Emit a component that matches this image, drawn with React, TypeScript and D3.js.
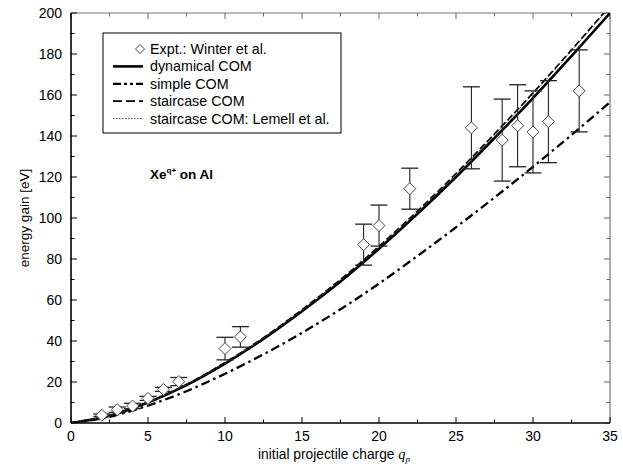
import React from "react";
import * as d3 from "d3";

const qGrid = [0, 2.5, 5, 7.5, 10, 12.5, 15, 17.5, 20, 22.5, 25, 27.5, 30, 32.5, 35];
const dynamicalCOM = [0, 3.5, 10, 18.5, 29, 41, 54.5, 69, 85, 102, 120, 139, 158.5, 179, 200];
const simpleCOM = [0, 3, 8.5, 15.5, 24, 33.5, 44, 55.5, 68, 81.5, 95.5, 110, 125, 140.5, 156.5];
const staircaseCOM = [0, 3.6, 10.2, 18.8, 29.5, 41.6, 55.3, 70, 86.2, 103.4, 121.7, 141, 161, 182, 203.5];
const staircaseLemell = [0, 3.6, 10.1, 18.7, 29.3, 41.4, 55, 69.7, 85.8, 103, 121.2, 140.5, 160.5, 181.5, 203];

const exptQ = [2, 3, 4, 5, 6, 7, 10, 11, 19, 20, 22, 26, 28, 29, 30, 31, 33];
const exptE = [3.8, 6.5, 8.3, 12, 16.4, 20.2, 36.3, 42, 87, 96.3, 114.3, 144, 138, 145, 142, 147, 162];
const exptErr = [0.6, 1.3, 1.3, 1, 1, 2, 5.5, 5, 10, 10, 10, 20, 20, 20, 20, 20, 20];

const xTicks = [0, 5, 10, 15, 20, 25, 30, 35];
const yTicks = [0, 20, 40, 60, 80, 100, 120, 140, 160, 180, 200];

const legendItems = [
  { label: "Expt.: Winter et al.", kind: "expt" },
  { label: "dynamical COM", kind: "solid" },
  { label: "simple COM", kind: "dashdot" },
  { label: "staircase COM", kind: "dashed" },
  { label: "staircase COM: Lemell et al.", kind: "dotted" },
];

const W = 623;
const H = 466;
const L = 71, R = 610, T = 13, B = 423;

const styles: Record<string, { w: number; dash?: string; color: string }> = {
  solid: { w: 2.6, color: "#000" },
  dashdot: { w: 2.3, dash: "9,4,2.5,4", color: "#000" },
  dashed: { w: 1.7, dash: "7,3", color: "#000" },
  dotted: { w: 1, dash: "1.5,1.5", color: "#444" },
};

export default function App() {
  const x = d3.scaleLinear().domain([0, 35]).range([L, R]);
  const y = d3.scaleLinear().domain([0, 200]).range([B, T]);

  const mk = (vals: number[]) =>
    d3
      .line<number>()
      .x((_, i) => x(qGrid[i]))
      .y((d) => y(d))
      .curve(d3.curveCatmullRom)(vals) || "";

  const font = "'Liberation Sans', Arial, Helvetica, sans-serif";
  const xMinor = d3.range(0, 35.01, 2.5);
  const yMinor = d3.range(0, 200.01, 10);

  const diamond = (cx: number, cy: number, r: number, key?: string) => (
    <path
      key={key}
      d={`M${cx},${cy - r}L${cx + r},${cy}L${cx},${cy + r}L${cx - r},${cy}Z`}
      fill="white"
      stroke="#444"
      strokeWidth={1}
    />
  );

  const curves: [number[], string][] = [
    [simpleCOM, "dashdot"],
    [dynamicalCOM, "solid"],
    [staircaseCOM, "dashed"],
    [staircaseLemell, "dotted"],
  ];

  const lx = 103, ly = 33, lw = 238, lh = 100;

  return (
    <svg
      width={W}
      height={H}
      style={{ position: "absolute", left: 0, top: 0, background: "white" }}
      fontFamily={font}
    >
      <rect x={0} y={0} width={W} height={H} fill="white" />
      <defs>
        <clipPath id="plot">
          <rect x={L} y={T} width={R - L} height={B - T} />
        </clipPath>
      </defs>

      <line x1={L} y1={T} x2={R} y2={T} stroke="#777" strokeWidth={1.2} />
      <line x1={R} y1={T} x2={R} y2={B} stroke="#777" strokeWidth={1.2} />

      {xMinor.map((v) => {
        const major = v % 5 === 0;
        const len = major ? 6 : 3.5;
        return (
          <g key={"xt" + v}>
            <line x1={x(v)} x2={x(v)} y1={B} y2={B - len} stroke="#000" strokeWidth={1} />
            <line x1={x(v)} x2={x(v)} y1={T} y2={T + len} stroke="#666" strokeWidth={1} />
          </g>
        );
      })}
      {yMinor.map((v) => {
        const major = v % 20 === 0;
        const len = major ? 6 : 3.5;
        return (
          <g key={"yt" + v}>
            <line x1={L} x2={L + len} y1={y(v)} y2={y(v)} stroke="#000" strokeWidth={1} />
            <line x1={R} x2={R - len} y1={y(v)} y2={y(v)} stroke="#666" strokeWidth={1} />
          </g>
        );
      })}

      <g clipPath="url(#plot)">
        {curves.map(([vals, k]) => (
          <path
            key={k}
            d={mk(vals)}
            fill="none"
            stroke={styles[k].color}
            strokeWidth={styles[k].w}
            strokeDasharray={styles[k].dash}
          />
        ))}
      </g>

      {exptQ.map((q, i) => {
        const cx = x(q);
        const top = y(exptE[i] + exptErr[i]);
        const bot = y(exptE[i] - exptErr[i]);
        const cap = 8.5;
        return (
          <g key={"e" + q}>
            <line x1={cx} x2={cx} y1={top} y2={bot} stroke="#222" strokeWidth={1.1} />
            <line x1={cx - cap} x2={cx + cap} y1={top} y2={top} stroke="#222" strokeWidth={1.3} />
            <line x1={cx - cap} x2={cx + cap} y1={bot} y2={bot} stroke="#222" strokeWidth={1.3} />
            {diamond(cx, y(exptE[i]), 6)}
          </g>
        );
      })}

      <line x1={L} y1={T} x2={L} y2={B} stroke="#000" strokeWidth={1.6} />
      <line x1={L} y1={B} x2={R} y2={B} stroke="#000" strokeWidth={1.6} />

      {xTicks.map((v) => (
        <text key={"xl" + v} x={x(v)} y={441} textAnchor="middle" fontSize={14} fill="#000">
          {v}
        </text>
      ))}
      {yTicks.map((v) => (
        <text key={"yl" + v} x={62} y={y(v) + 5} textAnchor="end" fontSize={14} fill="#000">
          {v}
        </text>
      ))}

      <text
        transform={`translate(29,${(T + B) / 2}) rotate(-90)`}
        textAnchor="middle"
        fontSize={13.5}
      >
        energy gain [eV]
      </text>
      <text x={258} y={459} fontSize={13.8}>
        initial projectile charge{" "}
        <tspan fontFamily="'Liberation Serif', serif" fontStyle="italic" fontSize={14.5}>q</tspan>
        <tspan fontFamily="'Liberation Serif', serif" fontStyle="italic" fontSize={9} dy={3}>p</tspan>
      </text>

      <text x={150} y={179} fontSize={13.5} fontWeight="bold">
        Xe
        <tspan fontSize={8} dy={-6}>q+</tspan>
        <tspan dy={6}> on Al</tspan>
      </text>

      <rect x={lx} y={ly} width={lw} height={lh} fill="white" stroke="#000" strokeWidth={1} />
      {legendItems.map((it, i) => {
        const cy = 49 + i * 17.4;
        return (
          <g key={it.label}>
            {it.kind === "expt" ? (
              diamond(140, cy, 4.5)
            ) : (
              <line
                x1={113}
                x2={143}
                y1={cy}
                y2={cy}
                stroke={styles[it.kind].color}
                strokeWidth={styles[it.kind].w}
                strokeDasharray={
                  it.kind === "dashdot" ? "8,3,3,3,3,3" : it.kind === "dashed" ? "9,4" : styles[it.kind].dash
                }
              />
            )}
            <text x={150} y={cy + 5} fontSize={14.3}>
              {it.label}
            </text>
          </g>
        );
      })}
    </svg>
  );
}
